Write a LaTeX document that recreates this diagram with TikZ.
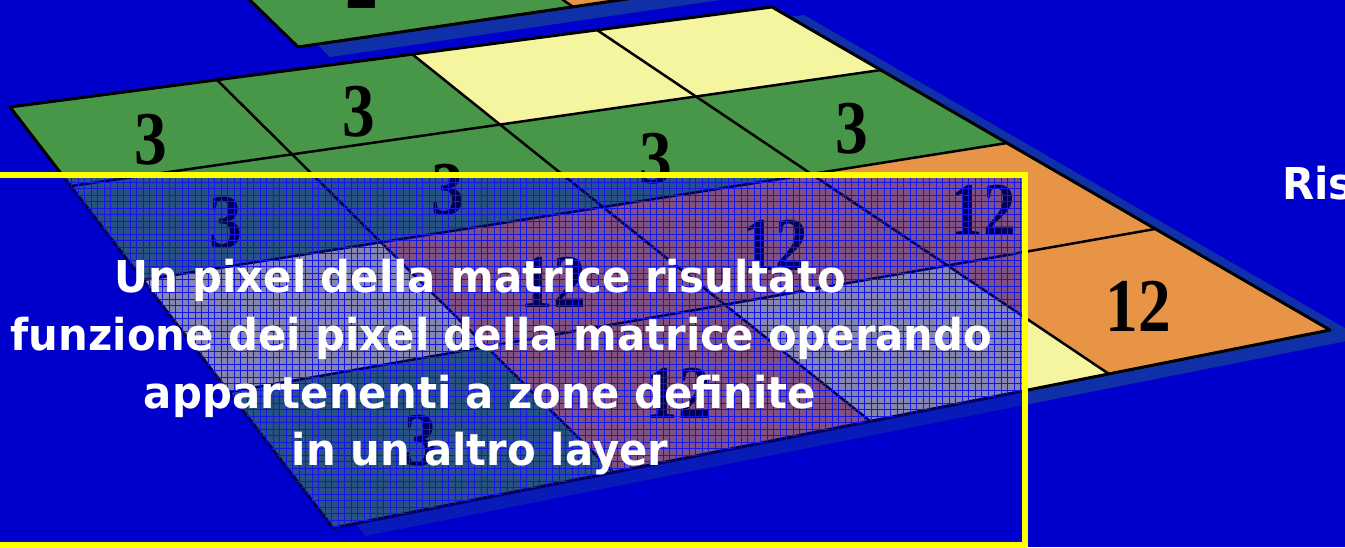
\documentclass[tikz,border=0pt]{standalone}
\usepackage{fontspec}
\setmainfont{DejaVu Sans}
\newfontfamily\digitfont{Liberation Serif}
\usetikzlibrary{calc}
\definecolor{bgblue}{RGB}{0,0,204}
\definecolor{shadowblue}{RGB}{16,48,168}
\definecolor{cellgreen}{RGB}{72,150,72}
\definecolor{cellyellow}{RGB}{245,245,160}
\definecolor{cellorange}{RGB}{232,148,70}
\definecolor{boxyellow}{RGB}{255,255,0}
\definecolor{meshblue}{RGB}{20,20,235}

\begin{document}
\begin{tikzpicture}[x=1pt, y=-1pt]
    \tikzstyle{cellline} = [black, line width=2.5pt, line join=round]
    \tikzstyle{digit}    = [font=\fontsize{76}{76}\selectfont\digitfont\bfseries,
                            xscale=0.86, inner sep=0pt]
    \tikzstyle{msgtext}  = [text=white, font=\fontsize{41.8}{42}\selectfont\bfseries,
                            yscale=1.05, anchor=base, inner sep=0pt]

    \useasboundingbox (0,0) rectangle (1345,547);
    \fill[bgblue] (0,0) rectangle (1345,547);

    % grid points of the lower layer (perspective)
    \coordinate (P-0-0) at (10,107);   \coordinate (P-1-0) at (217,80);
    \coordinate (P-2-0) at (412,54);   \coordinate (P-3-0) at (597,30);
    \coordinate (P-4-0) at (772,7);
    \coordinate (P-0-1) at (71,186);   \coordinate (P-1-1) at (292,155);
    \coordinate (P-2-1) at (500,125);  \coordinate (P-3-1) at (696,97);
    \coordinate (P-4-1) at (881,70);
    \coordinate (P-0-2) at (143,280);  \coordinate (P-1-2) at (381,242);
    \coordinate (P-2-2) at (603,207);  \coordinate (P-3-2) at (812,174);
    \coordinate (P-4-2) at (1007,143);
    \coordinate (P-0-3) at (229,392);  \coordinate (P-1-3) at (486,347);
    \coordinate (P-2-3) at (725,305);  \coordinate (P-3-3) at (947,265);
    \coordinate (P-4-3) at (1155,229);
    \coordinate (P-0-4) at (333,528);  \coordinate (P-1-4) at (613,472);
    \coordinate (P-2-4) at (870,421);  \coordinate (P-3-4) at (1109,374);
    \coordinate (P-4-4) at (1330,330);

    % upper layer, only its lower row shows
    \coordinate (T-a) at (219,-30);
    \coordinate (T-b) at (298,47);
    \coordinate (T-c) at (760,-20.5);
    \coordinate (T-d) at (760,-30);
    \coordinate (T-e) at (573,6.85);
    \coordinate (T-f) at (520,-30);

    % shadows
    \fill[shadowblue] ([shift={(32,10)}]T-a) -- ([shift={(32,10)}]T-b)
        -- ([shift={(32,10)}]T-c) -- ([shift={(32,10)}]T-d) -- cycle;
    \fill[cellgreen] (T-a) -- (T-b) -- (T-c) -- (T-d) -- cycle;
    \fill[cellorange] (T-f) -- (T-e) -- (T-c) -- (T-d) -- cycle;
    \draw[cellline] (T-e) -- (T-f);
    \draw[cellline, line width=3pt] (T-a) -- (T-b) -- (T-c);
    \node[digit, anchor=base] (top-2) at (362,8) {2};

    \fill[shadowblue] ([shift={(32,8)}]P-0-0) -- ([shift={(32,8)}]P-4-0)
        -- ([shift={(32,8)}]P-4-4) -- ([shift={(32,8)}]P-0-4) -- cycle;

    % cells
    \foreach \c/\r/\col in {0/0/cellgreen, 1/0/cellgreen, 2/0/cellyellow, 3/0/cellyellow,
                            0/1/cellgreen, 1/1/cellgreen, 2/1/cellgreen, 3/1/cellgreen,
                            0/2/cellyellow, 1/2/cellorange, 2/2/cellorange, 3/2/cellorange,
                            0/3/cellgreen, 1/3/cellorange, 2/3/cellyellow, 3/3/cellorange} {
        \pgfmathtruncatemacro{\cn}{\c+1}
        \pgfmathtruncatemacro{\rn}{\r+1}
        \fill[\col] (P-\c-\r) -- (P-\cn-\r) -- (P-\cn-\rn) -- (P-\c-\rn) -- cycle;
    }
    \foreach \i in {1,2,3} {
        \draw[cellline] (P-\i-0) -- (P-\i-4);
        \draw[cellline] (P-0-\i) -- (P-4-\i);
    }
    \draw[cellline, line width=3pt] (P-0-0) -- (P-4-0) -- (P-4-4) -- (P-0-4) -- cycle;

    \foreach \c/\r/\lab in {0/0/3, 1/0/3, 0/1/3, 1/1/3, 2/1/3, 3/1/3,
                            1/2/12, 2/2/12, 3/2/12, 0/3/3, 1/3/12, 3/3/12} {
        \pgfmathtruncatemacro{\cn}{\c+1}
        \pgfmathtruncatemacro{\rn}{\r+1}
        \node[digit] (d-\c-\r) at ($(P-\c-\r)!0.5!(P-\cn-\rn) + (0,9)$) {\lab};
    }

    % tinted window
    \begin{scope}
        \clip (-20,175) rectangle (1025,545);
        \fill[bgblue, opacity=0.45] (-20,175) rectangle (1025,545);
        \clip (P-0-0) -- (P-4-0) -- (P-4-4) -- (P-0-4) -- cycle;
        \draw[meshblue, line width=0.5pt, step=6.5pt] (-20,175) grid (1025,545);
    \end{scope}
    \draw[boxyellow, line width=6.5pt] (-20,175) rectangle (1025,545);

    \node[msgtext] (line-a) at (480,292) {Un pixel della matrice risultato};
    \node[msgtext] (line-b) at (480,350) {è funzione dei pixel della matrice operando};
    \node[msgtext] (line-c) at (480,408) {appartenenti a zone definite};
    \node[msgtext] (line-d) at (480,465) {in un altro layer};
    \node[msgtext, anchor=base west] (ris) at (1282,199) {Ris};
\end{tikzpicture}
\end{document}
